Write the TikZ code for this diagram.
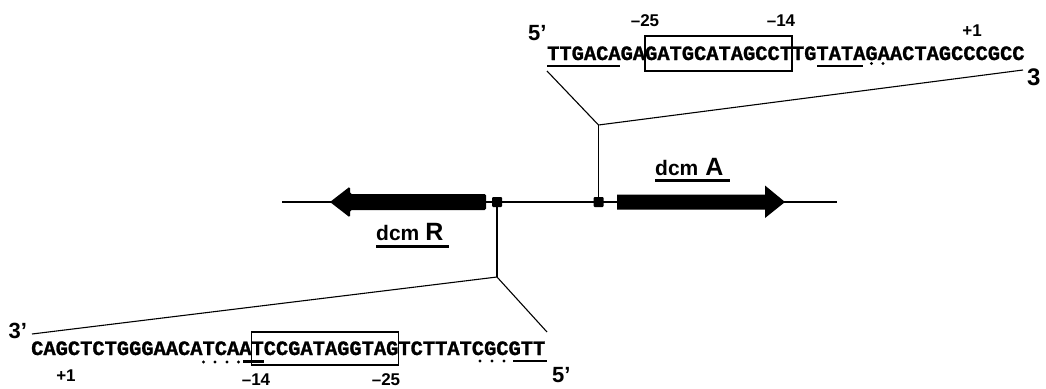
\documentclass[tikz,border=0pt]{standalone}
\usepackage{fontspec}
\setmainfont{Liberation Sans}
\newfontfamily\seqfont{Liberation Mono Bold}[FakeBold=1.2]
\begin{document}
\begin{tikzpicture}[x=1pt,y=-1pt,
  seq/.style={inner sep=0pt, anchor=base west, font=\seqfont\fontsize{20.4}{22}\selectfont},
  num/.style={inner sep=0pt, anchor=base, font=\bfseries\fontsize{17}{18}\selectfont},
  endl/.style={inner sep=0pt, anchor=base west, font=\bfseries\fontsize{22}{24}\selectfont},
  genelbl/.style={inner sep=0pt, anchor=base west, font=\bfseries},
  conn/.style={line width=1.1pt},
  axisline/.style={line width=1.3pt},
  ul/.style={line width=2.6pt},
  gul/.style={line width=3pt},
  seqdot/.style={circle, fill, inner sep=0pt, minimum size=3.2pt},
  site/.style={rectangle, fill, inner sep=0pt, minimum size=10pt, rounded corners=1pt},
  bracket/.style={line width=1.3pt}]
\clip (0,0) rectangle (1046,388);
% axis
\coordinate (axL) at (282,202);
\coordinate (axR) at (837,202);
\draw[axisline] (axL) -- (axR);
% genes
\fill[rounded corners=1.5pt] (486,194) -- (350,194) -- (350,186.5) -- (330,202) -- (350,217.5) -- (350,210) -- (486,210) -- cycle;
\fill (617,194.5) -- (765,194.5) -- (765,185.5) -- (785,202) -- (765,218) -- (765,209.5) -- (617,209.5) -- cycle;
% sites
\node[site] (sR) at (497,202) {};
\node[site] (sA) at (598.5,202) {};
% gene labels
\node[genelbl] (dcmR) at (376,240) {\fontsize{21}{22}\selectfont dcm\hspace{6pt}\fontsize{25}{26}\selectfont R};
\node[genelbl] (dcmA) at (655,175) {\fontsize{21}{22}\selectfont dcm\hspace{7pt}\fontsize{25}{26}\selectfont A};
\draw[gul] (376,246.5) -- (449,246.5);
\draw[gul] (655,180.5) -- (730,180.5);
% zoom lines
\coordinate (vA) at (598.5,125);
\coordinate (vR) at (497,277);
\coordinate (tL) at (547,71);
\coordinate (tR) at (1023,70);
\coordinate (bL) at (32,334);
\coordinate (bR) at (547,332);
\draw[conn] (sA.north) -- (vA);
\draw[conn] (tL) -- (vA) -- (tR);
\draw[conn] (sR.south) -- (vR);
\draw[conn] (bL) -- (vR) -- (bR);
% top sequence
\draw[bracket] (645,36) rectangle (792,71);
\node[seq] (seqA) at (547,60) {TTGACAGAGATGCATAGCCTTGTATAGAACTAGCCCGCC};
\draw[ul] (547,66) -- (620,66);
\draw[ul] (817,66) -- (863,66);
\node[seqdot] (dA1) at (871.5,63.5) {};
\node[seqdot] (dA2) at (883,63.5) {};
\node[num] (m25t) at (645,26) {–25};
\node[num] (m14t) at (781,26) {–14};
\node[num] (p1t) at (972,36) {+1};
\node[endl] (f5t) at (528,40) {5'};
\node[endl, font=\bfseries\fontsize{24}{26}\selectfont] (t3t) at (1027,85) {3};
% bottom sequence
\draw[bracket] (251.5,332) rectangle (398.5,365);
\node[seq] (seqR) at (31,355) {CAGCTCTGGGAACATCAATCCGATAGGTAGTCTTATCGCGTT};
\draw[ul] (243,361.5) -- (264,361.5);
\draw[ul] (513,361) -- (547,361);
\node[seqdot] (dR1) at (203.5,362) {};
\node[seqdot] (dR2) at (215,362) {};
\node[seqdot] (dR3) at (227,362) {};
\node[seqdot] (dR4) at (238.5,362) {};
\node[seqdot] (dR5) at (480,361) {};
\node[seqdot] (dR6) at (492,361) {};
\node[seqdot] (dR7) at (504,361) {};
\node[num] (p1b) at (66,381.7) {+1};
\node[num] (m14b) at (256,385.5) {–14};
\node[num] (m25b) at (386,385.5) {–25};
\node[endl] (t3b) at (8.5,338.5) {3'};
\node[endl] (f5b) at (552,382) {5'};
\end{tikzpicture}
\end{document}
